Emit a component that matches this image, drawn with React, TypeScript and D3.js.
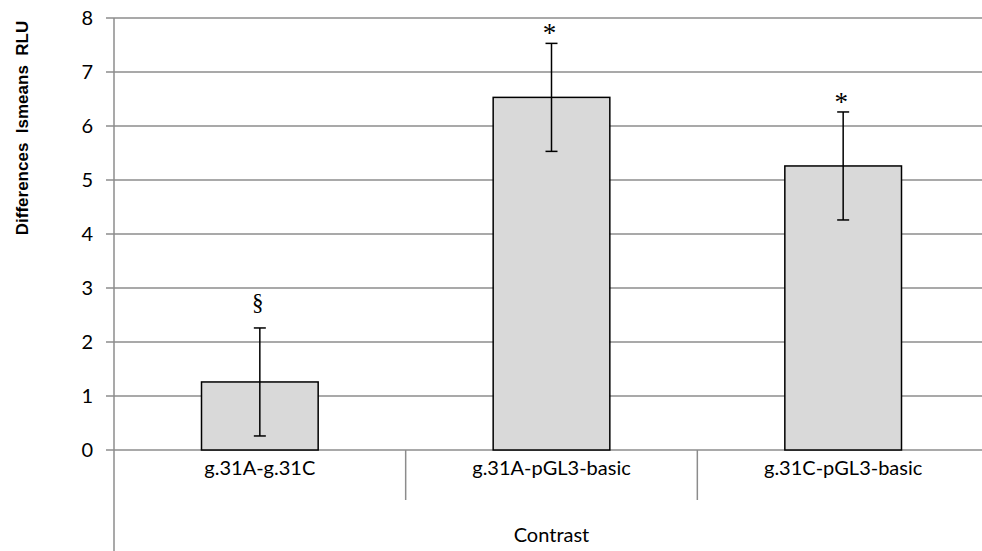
import React from "react"
import * as d3 from "d3"

const categories = ["g.31A-g.31C", "g.31A-pGL3-basic", "g.31C-pGL3-basic"];
const means = [1.26, 6.53, 5.26];
const errors = [1.0, 1.0, 1.0];
const marks = ["§", "*", "*"];
const yTicks = [0, 1, 2, 3, 4, 5, 6, 7, 8];

const W = 982, H = 551;
const margin = { left: 114, top: 18, right: -7, bottom: 101 };

export default function App() {
	const x = d3.scaleBand<string>()
		.domain(categories)
		.range([margin.left, W - margin.right])
		.paddingInner(0).paddingOuter(0);
	const y = d3.scaleLinear().domain([0, 8]).range([H - margin.bottom, margin.top]);

	const bw = x.bandwidth() * 0.4;
	const cap = 6;
	const grid = "#8c8c8c";
	const labelFont = "Lato, 'Open Sans', sans-serif";

	return (
		<svg width={W} height={H} style={{ position: "absolute", left: 0, top: 0, display: "block" }}>
			<rect width={W} height={H} fill="#fff" />
			{/* gridlines */}
			{yTicks.map(t => (
				<line key={"g" + t} x1={margin.left - 8} x2={W} y1={y(t)} y2={y(t)} stroke={grid} strokeWidth={1.5} />
			))}
			{/* y axis */}
			<line x1={margin.left} x2={margin.left} y1={y(8)} y2={H} stroke={grid} strokeWidth={1.5} />
			{yTicks.map(t => (
				<text key={"t" + t} x={margin.left - 21} y={y(t)} dy="0.35em" textAnchor="end"
					fontFamily={labelFont} fontSize={20} fill="#000">{t}</text>
			))}
			{/* category separators */}
			{categories.slice(1).map(c => (
				<line key={"s" + c} x1={x(c)} x2={x(c)} y1={y(0)} y2={y(0) + 50} stroke={grid} strokeWidth={1.5} />
			))}
			{/* bars */}
			{categories.map((c, i) => {
				const cx = (x(c) as number) + x.bandwidth() / 2;
				const top = y(means[i] + errors[i]);
				const star = marks[i] === "*";
				return (
					<g key={"b" + c}>
						<rect x={cx - bw / 2} y={y(means[i])} width={bw} height={y(0) - y(means[i])}
							fill="#d9d9d9" stroke="#000" strokeWidth={1.5} />
						<line x1={cx} x2={cx} y1={top} y2={y(means[i] - errors[i])} stroke="#000" strokeWidth={1.5} />
						<line x1={cx - cap} x2={cx + cap} y1={top} y2={top} stroke="#000" strokeWidth={1.5} />
						<line x1={cx - cap} x2={cx + cap} y1={y(means[i] - errors[i])} y2={y(means[i] - errors[i])} stroke="#000" strokeWidth={1.5} />
						<text x={cx - 2} y={top - (star ? 1 : 18)} textAnchor="middle"
							fontFamily="'Liberation Serif', 'DejaVu Serif', serif" fontSize={star ? 27 : 23} fill="#000">{marks[i]}</text>
						<text x={cx} y={y(0) + 18} dy="0.35em" textAnchor="middle"
							fontFamily={labelFont} fontSize={20} fill="#000">{c}</text>
					</g>
				);
			})}
			<text x={(margin.left + W - margin.right) / 2} y={535} dy="0.35em" textAnchor="middle"
				fontFamily={labelFont} fontSize={20} fill="#000">Contrast</text>
			<text transform={`translate(28,${128}) rotate(-90)`} textAnchor="middle" style={{ whiteSpace: "pre" }}
				fontFamily="'Liberation Sans', Arial, sans-serif" fontWeight="bold" fontSize={17} fill="#000">
				{"Differences  lsmeans  RLU"}
			</text>
		</svg>
	);
}
